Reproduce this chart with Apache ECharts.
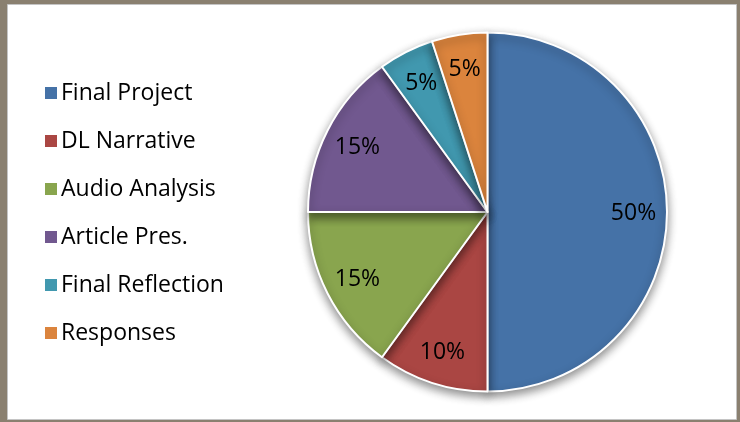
<!DOCTYPE html>
<html>
<head>
<meta charset="utf-8">
<script src="https://cdn.jsdelivr.net/npm/echarts@6/dist/echarts.min.js"></script>
<style>
html,body{margin:0;padding:0;background:#8a8070;}
#chart{width:740px;height:422px;}
</style>
</head>
<body>
<div id="chart"></div>
<script>
const categories = ['Final Project', 'DL Narrative', 'Audio Analysis', 'Article Pres.', 'Final Reflection', 'Responses'];
const values = [50, 10, 15, 15, 5, 5];
const colors = ['#4572A7', '#AA4643', '#89A54E', '#71588F', '#4198AF', '#DB843D'];

const chart = echarts.init(document.getElementById('chart'), null, {renderer: 'canvas'});
const data = categories.map((c, i) => ({name: c, value: values[i]}));
const font = '"Open Sans", "Noto Sans", sans-serif';

chart.setOption({
  animation: false,
  backgroundColor: '#8a8070',
  color: colors,
  graphic: [
    {type: 'rect', z: -10, shape: {x: 7.5, y: 4.5, width: 729, height: 415}, style: {fill: '#ffffff', stroke: '#c4c4c4', lineWidth: 1}}
  ],
  legend: {
    orient: 'vertical',
    left: 40,
    top: 76,
    itemWidth: 12,
    itemHeight: 12,
    itemGap: 24,
    icon: 'rect',
    itemStyle: {borderWidth: 0, borderColor: 'rgba(0,0,0,0)', shadowBlur: 0, shadowOffsetY: 0},
    textStyle: {fontFamily: font, fontSize: 23, color: '#000', lineHeight: 24, padding: [0, 0, 0, -1]},
    data: categories
  },
  series: [
    {
      type: 'pie',
      center: [487.5, 212],
      radius: [0, 179.5],
      startAngle: 90,
      clockwise: true,
      data: data,
      itemStyle: {borderColor: '#ffffff', borderWidth: 2, shadowBlur: 10, shadowColor: 'rgba(0,0,0,0.45)', shadowOffsetY: 4},
      label: {show: false},
      labelLine: {show: false},
      emphasis: {disabled: true}
    },
    {
      type: 'pie',
      center: [487.5, 213.5],
      radius: [106, 180],
      startAngle: 90,
      clockwise: true,
      data: data,
      legendHoverLink: false,
      itemStyle: {color: 'rgba(0,0,0,0)', borderWidth: 0},
      label: {show: true, position: 'inside', formatter: '{d}%', fontFamily: font, fontSize: 23, color: '#000'},
      labelLine: {show: false},
      emphasis: {disabled: true},
      silent: true
    }
  ]
});
</script>
</body>
</html>
